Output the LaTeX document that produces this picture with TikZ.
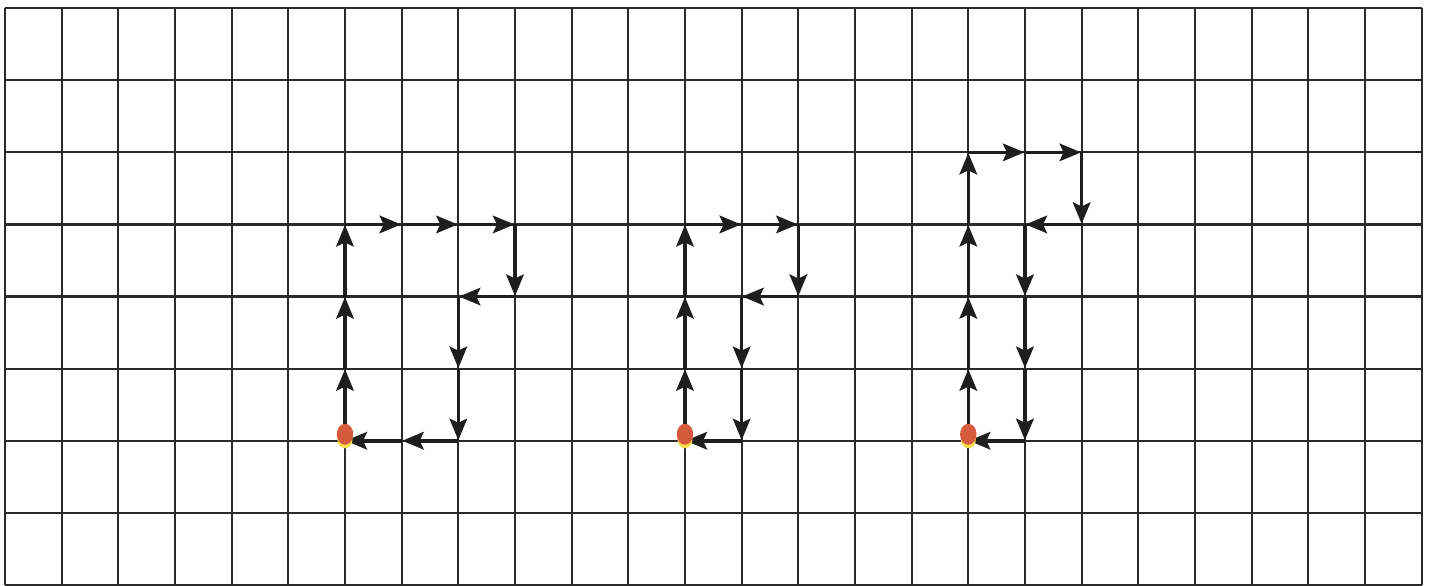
\documentclass[tikz,border=0pt]{standalone}
\usepackage{tikz}
\usetikzlibrary{arrows.meta,shapes.geometric}
\definecolor{gridc}{HTML}{2A2A2A}
\definecolor{arc}{HTML}{1E1E1E}
\definecolor{dotc}{HTML}{D65A3E}
\definecolor{glowc}{HTML}{F4DC4C}
\tikzset{
  gr/.style={gridc,line width=1.3pt},
  ar/.style={-{Stealth[length=4.3mm,width=3.5mm,inset=0.8mm]},arc,line width=2pt,shorten >=0.3pt},
  dot/.style={ellipse,fill=dotc,minimum width=3.3mm,minimum height=4.2mm,inner sep=0pt},
  glow/.style={ellipse,fill=glowc,minimum width=3mm,minimum height=3.4mm,inner sep=0pt}
}
\begin{document}
\begin{tikzpicture}[x=1.1333cm,y=1.442cm]
\useasboundingbox[fill=white] (-0.0882,-0.014) rectangle (25.13,8.113);
% grid
\foreach \i in {0,...,25}{\draw[gr] (\i,0)--(\i,8);}
\foreach \j in {0,...,8}{\draw[gr] (0,\j)--(25,\j);}
\foreach \i in {0,...,25}{\foreach \j in {0,...,8}{\coordinate (g-\i-\j) at (\i,\j);}}
% first figure
\foreach \a/\b in {6-2/6-3,6-3/6-4,6-4/6-5,6-5/7-5,7-5/8-5,8-5/9-5,9-5/9-4,9-4/8-4,8-4/8-3,8-3/8-2,8-2/7-2,7-2/6-2}
  {\draw[ar] (g-\a)--(g-\b);}
% second figure
\foreach \a/\b in {12-2/12-3,12-3/12-4,12-4/12-5,12-5/13-5,13-5/14-5,14-5/14-4,14-4/13-4,13-4/13-3,13-3/13-2,13-2/12-2}
  {\draw[ar] (g-\a)--(g-\b);}
% third figure
\foreach \a/\b in {17-2/17-3,17-3/17-4,17-4/17-5,17-5/17-6,17-6/18-6,18-6/19-6,19-6/19-5,19-5/18-5,18-5/18-4,18-4/18-3,18-3/18-2,18-2/17-2}
  {\draw[ar] (g-\a)--(g-\b);}
% start points
\foreach \s/\p in {s1/6-2,s2/12-2,s3/17-2}{
  \node[glow,yshift=0.2mm] (\s-glow) at (g-\p) {};
  \node[dot,yshift=1.3mm] (\s) at (g-\p) {};
}
\end{tikzpicture}
\end{document}
